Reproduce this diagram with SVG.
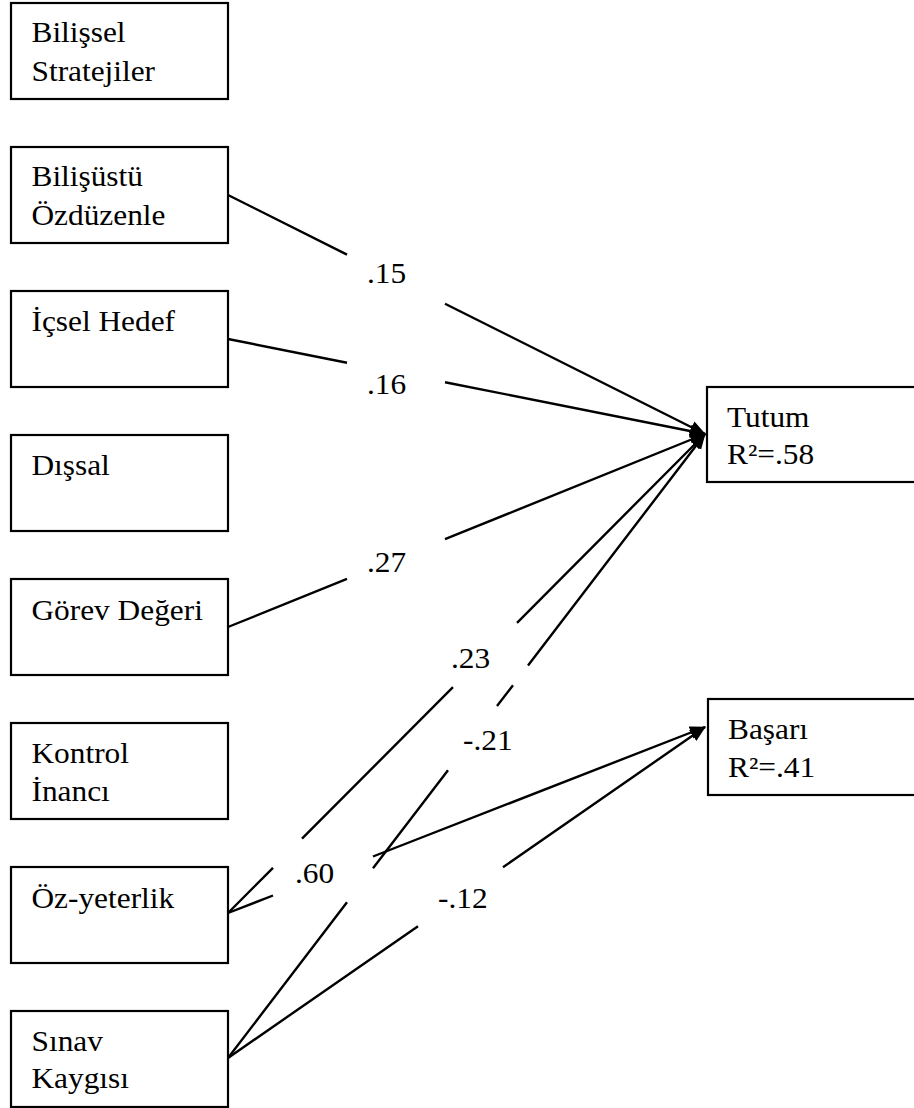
<svg xmlns="http://www.w3.org/2000/svg" width="914" height="1108" viewBox="0 0 914 1108">
  <defs>
    <marker id="arrow" markerUnits="userSpaceOnUse" markerWidth="17" markerHeight="14" refX="15" refY="6.5" orient="auto">
      <path d="M0,0 L16,6.5 L0,13 Z" fill="#000000"/>
    </marker>
  </defs>
  <rect width="914" height="1108" fill="#ffffff"/>

  <g font-family="Liberation Serif, Times New Roman, serif" font-size="28.5" fill="#000000">
    <!-- predictor boxes -->
    <g id="bilissel-stratejiler">
      <rect x="11" y="3" width="217" height="96" fill="#ffffff" stroke="#000000" stroke-width="2.2"/>
      <text transform="matrix(1.1 0 0 1 31.5 42)">Bilişsel</text>
      <text transform="matrix(1.1 0 0 1 31.5 81)">Stratejiler</text>
    </g>
    <g id="bilisustu-ozduzenle">
      <rect x="11" y="147" width="217" height="96" fill="#ffffff" stroke="#000000" stroke-width="2.2"/>
      <text transform="matrix(1.1 0 0 1 31.5 186)">Bilişüstü</text>
      <text transform="matrix(1.1 0 0 1 31.5 225)">Özdüzenle</text>
    </g>
    <g id="icsel-hedef">
      <rect x="11" y="291" width="217" height="96" fill="#ffffff" stroke="#000000" stroke-width="2.2"/>
      <text transform="matrix(1.1 0 0 1 31.5 331)">İçsel Hedef</text>
    </g>
    <g id="dissal">
      <rect x="11" y="435" width="217" height="96" fill="#ffffff" stroke="#000000" stroke-width="2.2"/>
      <text transform="matrix(1.1 0 0 1 31.5 475)">Dışsal</text>
    </g>
    <g id="gorev-degeri">
      <rect x="11" y="579" width="217" height="96" fill="#ffffff" stroke="#000000" stroke-width="2.2"/>
      <text transform="matrix(1.1 0 0 1 31.5 620)">Görev Değeri</text>
    </g>
    <g id="kontrol-inanci">
      <rect x="11" y="723" width="217" height="96" fill="#ffffff" stroke="#000000" stroke-width="2.2"/>
      <text transform="matrix(1.1 0 0 1 31.5 763)">Kontrol</text>
      <text transform="matrix(1.1 0 0 1 31.5 801)">İnancı</text>
    </g>
    <g id="oz-yeterlik">
      <rect x="11" y="867" width="217" height="96" fill="#ffffff" stroke="#000000" stroke-width="2.2"/>
      <text transform="matrix(1.1 0 0 1 31.5 908)">Öz-yeterlik</text>
    </g>
    <g id="sinav-kaygisi">
      <rect x="11" y="1011" width="217" height="96" fill="#ffffff" stroke="#000000" stroke-width="2.2"/>
      <text transform="matrix(1.1 0 0 1 31.5 1051)">Sınav</text>
      <text transform="matrix(1.1 0 0 1 31.5 1088)">Kaygısı</text>
    </g>

    <!-- outcome boxes -->
    <g id="tutum">
      <rect x="707" y="387" width="230" height="95" fill="#ffffff" stroke="#000000" stroke-width="2.2"/>
      <text transform="matrix(1.1 0 0 1 727 427)">Tutum</text>
      <text transform="matrix(1.1 0 0 1 727 464)">R²=.58</text>
    </g>
    <g id="basari">
      <rect x="708" y="699" width="230" height="96" fill="#ffffff" stroke="#000000" stroke-width="2.2"/>
      <text transform="matrix(1.1 0 0 1 728 739)">Başarı</text>
      <text transform="matrix(1.1 0 0 1 728 777)">R²=.41</text>
    </g>

    <!-- paths, broken where the coefficients sit -->
    <g id="connectors" fill="none" stroke="#000000" stroke-width="2.4" marker-end="url(#arrow)">
      <path d="M228,195 L347,254.6 M445,303.7 L705,434"/>
      <path d="M228,339 L347,362.7 M445,382.2 L705,434"/>
      <path d="M228,627 L347,578.9 M445,539.2 L705,434"/>
      <path d="M228,913 L273,867.8 M302,838.7 L453,687.1 M517,622.8 L705,434"/>
      <path d="M228,913 L273,895.5 M373,856.5 L705,727"/>
      <path d="M228,1058 L347,902.3 M373,868.3 L448,770.2 M497,706.1 L513,685.2 M528,665.6 L705,434"/>
      <path d="M228,1058 L418,926.2 M503,867.2 L705,727"/>
    </g>

    <!-- path coefficients -->
    <g id="coefficients">
      <text transform="matrix(1.1 0 0 1 367 283)">.15</text>
      <text transform="matrix(1.1 0 0 1 367 394)">.16</text>
      <text transform="matrix(1.1 0 0 1 367 572)">.27</text>
      <text transform="matrix(1.1 0 0 1 451 668)">.23</text>
      <text transform="matrix(1.1 0 0 1 463 750)">-.21</text>
      <text transform="matrix(1.1 0 0 1 295 883)">.60</text>
      <text transform="matrix(1.1 0 0 1 438 908)">-.12</text>
    </g>
  </g>
</svg>
